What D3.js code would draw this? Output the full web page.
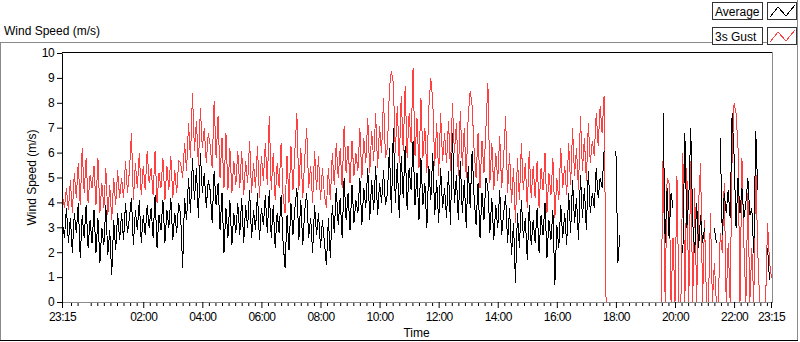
<!DOCTYPE html>
<html><head><meta charset="utf-8">
<script src="https://cdn.jsdelivr.net/npm/d3@7"></script>
<style>
html,body{margin:0;padding:0;background:#fff;}
svg{display:block;font-family:"Liberation Sans",Arial,sans-serif;}
</style></head><body>
<svg id="chart" width="800" height="342"></svg>
<script>
// ---------- data ----------
const startTime = "2020-01-01T23:15";
const stepMinutes = 4;

const gust = [
4.3,3.8,4.6,3.7,4.9,3.6,5.2,4.2,5.6,3.9,6.2,4.4,5.8,4.0,5.1,
4.6,5.5,3.9,5.8,3.6,4.8,3.8,5.4,3.5,4.7,3.3,5.0,3.9,5.3,4.2,
5.0,4.2,5.7,4.4,5.3,6.8,4.1,5.6,4.6,6.0,4.3,5.5,4.5,6.1,4.8,
5.4,4.3,6.1,4.0,5.2,4.6,5.8,4.1,5.5,4.5,5.9,4.2,5.3,4.4,5.7,
5.6,5.0,6.4,5.3,7.2,5.8,8.4,6.1,7.3,5.5,7.8,6.2,7.0,5.6,6.8,
6.3,5.4,8.1,5.8,7.5,5.0,6.6,4.6,6.8,4.5,6.2,4.4,5.7,4.7,6.1,
4.6,6.1,4.3,5.7,4.8,6.5,4.4,5.6,4.6,6.3,4.2,5.9,4.9,6.4,4.7,
7.5,4.5,6.0,4.1,5.6,4.6,6.4,4.3,3.6,5.9,4.0,6.3,4.5,6.1,7.6,
4.5,6.2,4.2,5.8,7.0,4.6,5.5,4.0,6.1,4.5,5.9,4.1,5.4,4.3,3.8,
5.4,4.1,6.0,4.7,6.4,5.0,6.2,4.6,7.1,5.2,6.3,4.8,6.5,5.1,6.0,
5.3,7.0,5.0,6.6,5.6,7.4,5.2,6.9,5.7,7.6,5.4,7.1,6.0,8.2,5.8,
6.2,8.6,9.3,8.8,6.0,7.9,5.6,8.3,6.1,8.7,5.8,7.6,6.4,9.4,5.9,
7.4,5.4,8.2,5.8,7.0,5.2,7.8,9.0,8.1,5.5,7.2,5.1,7.6,5.7,6.8,
5.6,7.3,5.3,8.0,6.0,7.2,5.1,7.7,5.5,7.0,5.0,7.5,8.5,7.9,6.1,
5.0,6.8,4.6,6.5,5.2,7.0,8.8,4.8,6.4,4.5,6.0,4.9,6.7,4.6,5.8,
7.5,4.4,6.0,4.0,5.4,3.2,5.8,4.1,6.4,4.5,5.6,3.8,6.1,4.2,5.5,
4.2,5.7,3.8,5.4,4.5,6.0,3.6,5.2,4.3,5.8,3.4,5.0,4.1,6.2,4.6,
5.5,4.3,6.4,4.7,7.0,5.1,6.2,4.5,7.5,5.3,6.6,4.9,7.2,5.6,6.5,
5.9,7.6,6.3,7.9,6.8,8.3,
0,0,0,0,0,0,0,0,0,0,0,0,0,0,0,0,0,0,0,0,0,0,0,0,0,0,0,0,0,
6.2,0,5.0,4.8,0,2.6,0,5.1,0,0,6.0,0,5.4,0,5.7,0,4.6,0,4.0,5.6,
0,3.3,0,0,3.6,0,1.6,0,0,2.8,2.0,4.8,0,2.4,0,5.9,8.0,7.6,6.2,0,
5.8,2.3,0,4.4,0,2.2,0,5.6,2.1,0,0,0,0,3.2,1.6,1.0
];

const average = [
3.2,2.6,3.8,2.4,3.4,2.0,3.6,2.8,4.0,1.8,3.5,2.6,3.9,2.2,3.3,
2.4,3.7,2.0,3.4,1.6,3.0,2.3,3.9,1.9,2.9,1.1,3.3,2.1,3.6,2.5,
3.6,2.5,4.0,2.8,3.4,4.2,2.3,3.7,2.9,4.1,2.4,3.5,2.7,3.9,3.0,
3.8,2.6,4.3,2.2,3.5,2.9,4.1,2.4,3.7,3.0,4.2,2.5,3.6,2.8,4.0,
3.5,1.4,4.2,3.3,5.0,3.6,5.8,4.1,5.4,3.4,6.0,4.4,5.2,3.8,4.9,
4.5,3.2,5.3,3.9,4.8,2.9,4.4,2.0,3.8,2.6,4.1,2.3,3.6,2.8,4.0,
2.7,4.2,2.4,3.9,3.0,4.5,2.6,3.7,2.9,4.4,2.5,3.8,3.1,4.3,2.8,
4.5,2.6,3.9,2.2,3.6,2.8,4.3,2.4,1.4,3.5,2.1,4.0,2.7,3.8,4.6,
2.5,4.1,2.3,3.7,4.4,2.6,3.4,2.0,3.9,2.7,3.6,2.2,3.3,2.4,1.5,
3.4,1.8,3.9,2.8,4.6,3.1,4.2,2.6,5.0,3.3,4.4,2.9,4.7,3.2,4.1,
3.6,5.0,3.1,4.6,3.8,5.4,3.3,4.9,3.7,5.5,3.5,4.8,4.0,5.3,3.9,
4.4,6.2,3.6,7.0,4.0,5.6,3.4,5.9,4.2,6.3,3.7,5.4,4.5,6.5,3.9,
5.2,3.3,5.8,3.9,4.8,3.0,5.5,4.1,6.0,3.5,4.9,3.2,5.4,3.8,4.6,
3.4,5.3,3.1,6.8,4.0,5.1,3.3,5.7,3.6,4.9,3.0,5.5,3.8,6.1,4.2,
3.1,4.8,2.6,4.4,3.3,5.0,4.6,2.8,4.2,2.5,3.9,3.0,4.5,2.7,3.6,
4.3,2.4,3.8,1.9,3.2,0.8,3.6,2.2,4.1,2.6,3.4,1.7,3.9,2.3,3.3,
2.4,3.8,2.0,3.5,2.7,4.0,1.8,3.3,2.5,3.7,0.7,3.1,2.2,3.9,2.6,
3.6,2.3,4.4,2.8,4.9,3.2,4.2,2.5,5.1,3.4,4.6,2.9,5.3,3.6,4.4,
3.8,5.4,4.2,5.0,4.6,6.1,
null,null,null,null,null,
6.1,1.6,2.7,
null,null,null,null,null,null,null,null,null,null,null,null,null,null,null,null,null,null,null,null,null,
7.6,2.4,4.6,2.6,4.4,3.8,null,null,null,null,
2.0,6.8,3.0,4.2,7.0,3.2,2.0,4.0,2.2,3.5,2.4,3.0,
null,null,null,null,3.0,2.4,null,
6.6,2.7,4.4,3.6,4.5,3.4,7.6,5.9,3.0,5.0,3.6,4.6,3.4,4.0,5.0,3.5,3.8,2.0,6.9,4.5,
null,null,null,null,2.2,0.9,null
];

const majorTicks = ["2020-01-01T23:15","2020-01-02T02:00","2020-01-02T04:00","2020-01-02T06:00",
  "2020-01-02T08:00","2020-01-02T10:00","2020-01-02T12:00","2020-01-02T14:00","2020-01-02T16:00",
  "2020-01-02T18:00","2020-01-02T20:00","2020-01-02T22:00","2020-01-02T23:15"];
const yTicks = [0,1,2,3,4,5,6,7,8,9,10];
const seriesNames = ["Average","3s Gust"];
const seriesColors = ["#000000","#ff4040"];
const chartTitle = "Wind Speed (m/s)";
const yTitle = "Wind Speed (m/s)";
const xTitle = "Time";

// ---------- drawing ----------
const svg = d3.select("#chart");
const parse = d3.timeParse("%Y-%m-%dT%H:%M");
const t0 = parse(startTime);
const t1 = d3.timeHour.offset(t0, 24);
const times = gust.map((_, i) => d3.timeMinute.offset(t0, i * stepMinutes));

const L = 62, R = 771, B = 302, T = 53;
const x = d3.scaleTime().domain([t0, t1]).range([L, R]);
const y = d3.scaleLinear().domain([0, 10]).range([B, T]);

// outer frame
svg.append("rect").attr("x",0).attr("y",0).attr("width",800).attr("height",342).attr("fill","#fff");
svg.append("line").attr("x1",0).attr("x2",798).attr("y1",42.5).attr("y2",42.5).attr("stroke","#8a8a8a");
svg.append("line").attr("x1",0.5).attr("x2",0.5).attr("y1",42).attr("y2",341).attr("stroke","#8a8a8a");
svg.append("line").attr("x1",797.5).attr("x2",797.5).attr("y1",0).attr("y2",341).attr("stroke","#8a8a8a");
svg.append("line").attr("x1",0).attr("x2",798).attr("y1",340.5).attr("y2",340.5).attr("stroke","#000");

// title
svg.append("text").attr("x",4).attr("y",35).attr("font-size",12).attr("fill","#000").text(chartTitle);

// plot frame
svg.append("rect").attr("x",L).attr("y",T-1).attr("width",R-L+1).attr("height",B-T+1).attr("fill","#fff");
svg.append("line").attr("x1",L).attr("x2",R+2).attr("y1",T-0.5).attr("y2",T-0.5).attr("stroke","#000");
svg.append("line").attr("x1",R+1.5).attr("x2",R+1.5).attr("y1",T-1).attr("y2",B+1).attr("stroke","#8a8a8a");

// data lines
const g = svg.append("g").attr("transform","translate(0.5,0.5)");
const line = d3.line()
  .defined(d => d[1] != null)
  .x(d => x(d[0]))
  .y(d => y(d[1]));
g.append("path")
  .attr("d", line(times.map((t, i) => [t, gust[i]])))
  .attr("fill","none").attr("stroke",seriesColors[1]).attr("stroke-width",1)
  .attr("shape-rendering","crispEdges");
g.append("path")
  .attr("d", line(times.map((t, i) => [t, average[i]])))
  .attr("fill","none").attr("stroke",seriesColors[0]).attr("stroke-width",1)
  .attr("shape-rendering","crispEdges");

// minor ticks: 8 between majors
const majorDates = majorTicks.map(parse);
const minorStep = 2 * 3600 * 1000 / 9;
const minor = [];
const ref = majorDates[1].getTime();
for (let k = -20; k < 200; k++) {
  const tt = ref + k * minorStep;
  if (tt <= t0.getTime() + 300000 || tt >= t1.getTime() - 300000) continue;
  if (k % 9 === 0) continue;
  minor.push(new Date(tt));
}
const xMinor = svg.append("g").attr("transform",`translate(0,${B})`)
  .call(d3.axisBottom(x).tickValues(minor).tickSize(3).tickSizeOuter(0).tickFormat(""));
xMinor.select(".domain").remove();
xMinor.selectAll(".tick line").attr("stroke","#000").attr("transform","translate(0,1)");

const xAxis = svg.append("g").attr("transform",`translate(0,${B})`)
  .call(d3.axisBottom(x).tickValues(majorDates).tickSize(6).tickSizeOuter(0).tickPadding(4.5)
    .tickFormat(d3.timeFormat("%H:%M")));
xAxis.select(".domain").attr("stroke","#8a8a8a");
xAxis.selectAll(".tick line").attr("stroke","#000");
xAxis.selectAll(".tick text").attr("font-size",12).attr("font-family","Liberation Sans, Arial, sans-serif")
  .attr("letter-spacing","-0.6px").attr("fill","#000");

const yAxis = svg.append("g").attr("transform",`translate(${L},0)`)
  .call(d3.axisLeft(y).tickValues(yTicks).tickSize(5).tickSizeOuter(0).tickPadding(3).tickFormat(d3.format("d")));
yAxis.select(".domain").attr("stroke","#000");
yAxis.selectAll(".tick line").attr("stroke","#000");
yAxis.selectAll(".tick text").attr("font-size",12).attr("font-family","Liberation Sans, Arial, sans-serif")
  .attr("letter-spacing","-0.6px").attr("fill","#000");

// axis titles
svg.append("text").attr("x",(L+R)/2).attr("y",337).attr("text-anchor","middle")
  .attr("font-size",12).attr("fill","#000").text(xTitle);
svg.append("text").attr("transform",`translate(36,${(T+B)/2}) rotate(-90)`).attr("text-anchor","middle")
  .attr("font-size",12).attr("fill","#000").text(yTitle);

// legend
const legendRows = [0, 25];
seriesNames.forEach((name, i) => {
  const y0 = 2 + legendRows[i];
  svg.append("rect").attr("x",712.5).attr("y",y0+0.5).attr("width",50).attr("height",17)
    .attr("fill","#fff").attr("stroke","#333");
  svg.append("text").attr("x",715).attr("y",y0+14).attr("font-size",12).attr("fill","#000").text(name);
  svg.append("rect").attr("x",767.5).attr("y",y0+0.5).attr("width",29).attr("height",17)
    .attr("fill","#fff").attr("stroke","#333");
  const pts = [[770, y0+15], [778, y0+5], [786, y0+14], [795, y0+3]];
  svg.append("path").attr("d", d3.line()(pts)).attr("fill","none")
    .attr("stroke", seriesColors[i]).attr("stroke-width",1).attr("shape-rendering","crispEdges");
});
</script>
</body></html>
